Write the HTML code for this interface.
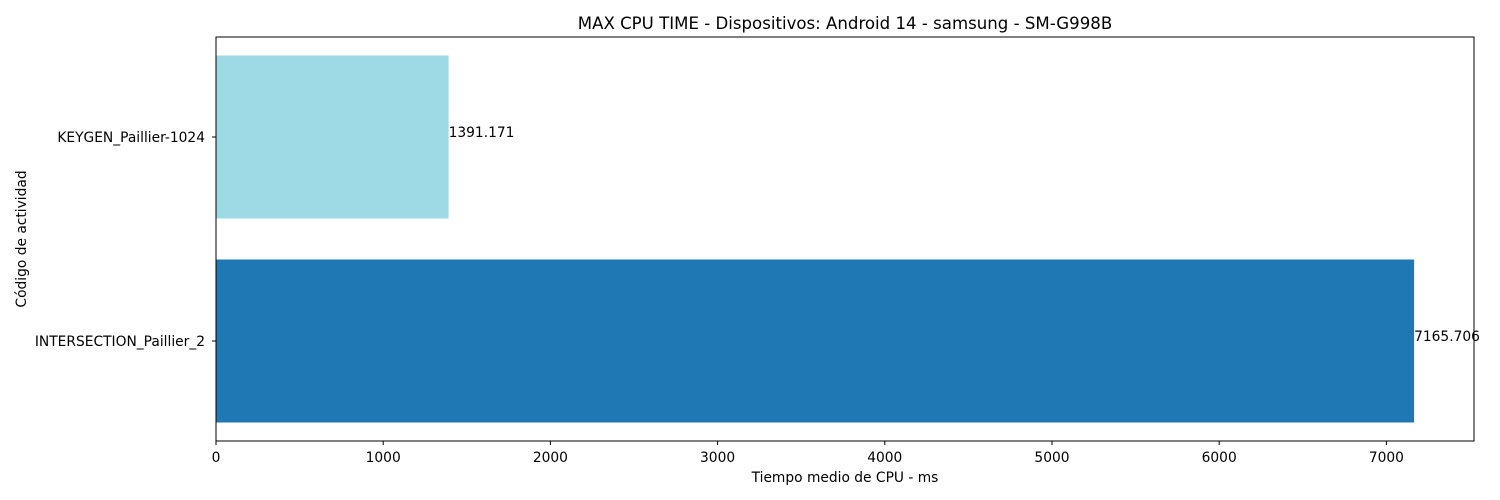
<!DOCTYPE html>
<html><head><meta charset="utf-8"><style>
body{margin:0;background:#fff;}
svg{display:block;font-family:"DejaVu Sans","Liberation Sans",sans-serif;}
</style></head><body>
<svg id="chart" width="1500" height="500">
<text x="845" y="29" font-size="16.6" text-anchor="middle">MAX CPU TIME - Dispositivos: Android 14 - samsung - SM-G998B</text>
<text x="845" y="482" font-size="13.8" text-anchor="middle">Tiempo medio de CPU - ms</text>
<text transform="translate(26,239) rotate(-90)" font-size="13.8" text-anchor="middle">Código de actividad</text>
<g id="marks"></g>
<rect x="216" y="37" width="1258" height="404" fill="none" stroke="#000" stroke-width="1"/>
</svg>
<script>
const categories = ["INTERSECTION_Paillier_2", "KEYGEN_Paillier-1024"];
const values = [7165.706, 1391.171];
const valueLabels = ["7165.706", "1391.171"];
const colors = ["#1f77b4", "#9edae5"];
const xTicks = [0, 1000, 2000, 3000, 4000, 5000, 6000, 7000];

const NS = "http://www.w3.org/2000/svg";
const x0 = 216, x1 = 1474, xMax = Math.max(...values) * 1.05;
const xs = v => x0 + v / xMax * (x1 - x0);
const yCenter = i => 341 - i * 204;
const barH = 163;
const g = document.getElementById("marks");
function mk(tag, attrs){const e=document.createElementNS(NS,tag);for(const k in attrs)e.setAttribute(k,attrs[k]);g.appendChild(e);return e;}

categories.forEach((c, i) => {
  const r = mk("rect", {x: xs(0), y: yCenter(i) - barH/2, width: xs(values[i]) - xs(0), height: barH, fill: colors[i]});
  
  
  const t = mk("text", {x: xs(values[i]), y: yCenter(i), "font-size": 13.8});
  t.textContent = valueLabels[i];
  
  
  const tk = mk("line", {x1: x0 - 4, x2: x0, y1: yCenter(i), y2: yCenter(i), stroke: "#000"});
  
  
  const tl = mk("text", {x: x0 - 11, y: yCenter(i) + 5, "font-size": 13.8, "text-anchor": "end"});
  tl.textContent = c;
  
  
});
xTicks.forEach(v => {
  const tk = mk("line", {x1: xs(v), x2: xs(v), y1: 441, y2: 445, stroke: "#000"});
  
  
  const tl = mk("text", {x: xs(v), y: 462, "font-size": 13.8, "text-anchor": "middle"});
  tl.textContent = String(v);
  
  
});
</script>
</body></html>
